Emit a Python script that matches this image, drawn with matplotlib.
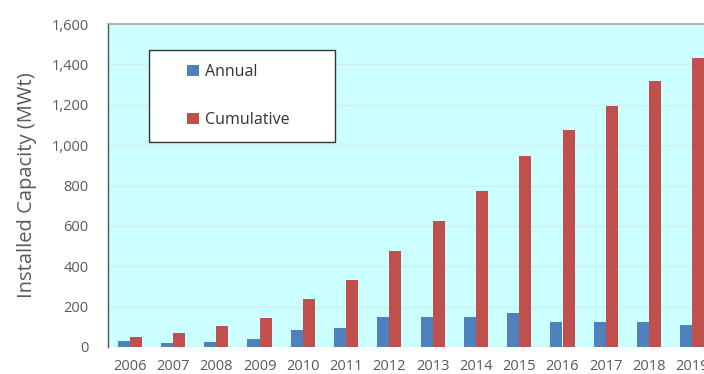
import numpy as np
import matplotlib.pyplot as plt
import matplotlib.patches as mpatches
from matplotlib.ticker import FuncFormatter

# Capacidad instalada por año (MWt)
years = [2006, 2007, 2008, 2009, 2010, 2011, 2012,
         2013, 2014, 2015, 2016, 2017, 2018, 2019]
annual = [31, 20, 26, 38, 84, 96, 147, 147, 147, 170, 122, 122, 122, 109]
cumulative = [51, 69, 104, 142, 236, 332, 477, 622, 774, 947, 1074, 1193, 1320, 1434]

AZUL = "#4F81BD"
ROJO = "#C0504D"
GRIS_TEXTO = "#595959"

plt.rcParams['font.family'] = ['Open Sans', 'DejaVu Sans']

W, H = 704, 374
fig = plt.figure(figsize=(W / 100, H / 100), dpi=100, facecolor='white')
# El eje se extiende un poco más allá del borde derecho de la figura
ax = fig.add_axes([108 / W, 1 - 347 / H, 606 / W, 323 / H])
ax.set_facecolor("#CCFFFF")

x = np.arange(len(years))
ancho = 0.28
ax.bar(x - ancho / 2, annual, width=ancho, color=AZUL, label="Annual", zorder=3)
ax.bar(x + ancho / 2, cumulative, width=ancho, color=ROJO, label="Cumulative", zorder=3)

ax.set_xlim(-0.5, len(years) - 0.5)
ax.set_ylim(0, 1600)
ax.set_yticks(np.arange(0, 1601, 200))
ax.yaxis.set_major_formatter(FuncFormatter(lambda v, _: f"{int(v):,}"))
ax.set_xticks(x)
ax.set_xticklabels([str(a) for a in years])

ax.grid(axis='y', color="#D3EDED", linewidth=1.0, zorder=1)
ax.tick_params(axis='both', length=0, labelcolor=GRIS_TEXTO)
ax.tick_params(axis='x', pad=8.5, labelsize=10.5)
ax.tick_params(axis='y', pad=14, labelsize=10.5)

for lado in ['right', 'bottom']:
    ax.spines[lado].set_visible(False)
ax.spines['left'].set_color("#555555")
ax.spines['left'].set_linewidth(1.0)
ax.spines['top'].set_color("#A0A8A8")
ax.spines['top'].set_linewidth(1.2)

ax.set_ylabel("Installed Capacity (MWt)", fontsize=14.5, color=GRIS_TEXTO, labelpad=10)

# Recuadro de la leyenda, más ancho que el contenido
x0, y0 = 149, 50
ancho_caja, alto_caja = 186, 92
ax_w, ax_h = 606, 323
caja = mpatches.Rectangle(((x0 - 108) / ax_w, 1 - (y0 - 24 + alto_caja) / ax_h),
                          ancho_caja / ax_w, alto_caja / ax_h,
                          transform=ax.transAxes, facecolor='white',
                          edgecolor="#333333", linewidth=1.0, zorder=5)
ax.add_patch(caja)

leg = ax.legend(loc='upper left', bbox_to_anchor=((187 - 108) / ax_w, 1 - (64 - 24) / ax_h),
                fontsize=11.5, frameon=False, borderpad=0,
                labelspacing=2.0, handlelength=0.75, handleheight=0.75,
                handletextpad=0.35, borderaxespad=0)
leg.set_zorder(6)
for t in leg.get_texts():
    t.set_color("#333333")

fig.savefig("out.png", dpi=100, facecolor='white')
